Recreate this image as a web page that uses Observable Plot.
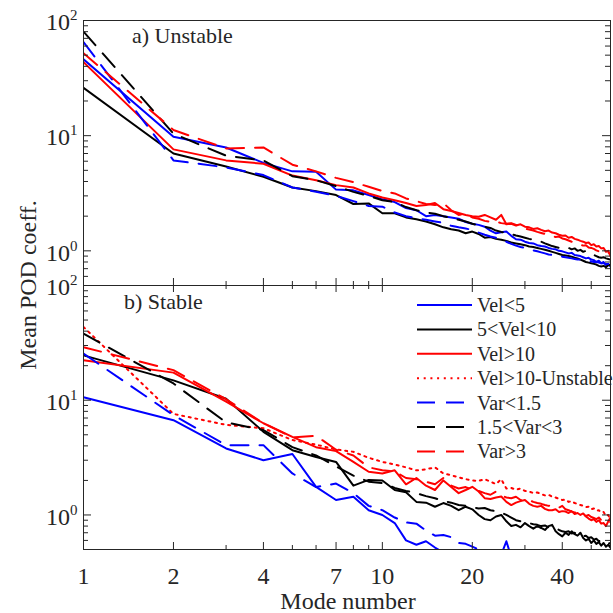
<!DOCTYPE html>
<html><head><meta charset="utf-8">
<script src="https://cdn.jsdelivr.net/npm/d3@7"></script>
<script src="https://cdn.jsdelivr.net/npm/@observablehq/plot@0.6"></script>
<style>
html,body{margin:0;padding:0;background:#fff;}
#chart{position:relative;width:613px;height:613px;background:#fff;font-family:"Liberation Serif","Times New Roman",Times,serif;}
#chart svg{position:absolute;left:0;overflow:visible;}
</style></head><body><div id="chart"></div>
<script>
// ---------- data ----------
const modes = [1,2,3,4,5,6,7,8,9,10,11,12,13,14,15,16,17,18,19,20,21,22,23,24,25,26,27,28,29,30,
  31,32,33,34,35,36,37,38,39,40,41,42,43,44,45,46,47,48,49,50,51,52,53,54,55,56,57,58];

// a) Unstable
const unstVelLt5 = [46,9.8,7.9,5.8,4.9,4.85,3.4,3.35,3.05,2.8,
  2.65,2.35,2.25,2.0,2.05,2.0,1.95,1.9,1.78,1.72,
  1.68,1.62,1.5,1.42,1.45,1.47,1.35,1.26,1.25,1.2,
  1.17,1.16,1.12,1.1,1.09,1.06,1.04,1.03,1.0,0.99,
  0.97,0.95,0.96,0.92,0.91,0.9,0.88,0.86,0.87,0.84,
  0.83,0.8,0.82,0.78,0.8,0.75,0.77,0.73];
const unstVel5to10 = [26,7.0,5.4,4.4,3.55,3.3,3.05,2.55,2.58,2.12,
  2.12,1.95,1.88,1.8,1.7,1.6,1.54,1.5,1.42,1.47,
  1.4,1.3,1.32,1.27,1.25,1.22,1.18,1.16,1.14,1.12,
  1.09,1.08,1.06,1.04,1.02,1.0,0.98,0.96,0.94,0.92,
  0.91,0.9,0.89,0.87,0.86,0.84,0.82,0.8,0.79,0.78,
  0.77,0.76,0.74,0.73,0.74,0.72,0.75,0.76];
const unstVelGt10 = [43.5,7.6,6.1,5.7,4.5,4.1,3.72,3.55,3.15,2.9,
  2.75,2.6,2.45,2.5,2.6,2.3,2.22,2.13,2.05,2.0,
  1.98,2.05,1.95,1.86,2.05,1.7,1.72,1.66,1.7,1.62,
  1.6,1.55,1.57,1.52,1.48,1.5,1.44,1.42,1.38,1.35,
  1.36,1.3,1.32,1.27,1.25,1.22,1.2,1.17,1.18,1.12,
  1.14,1.09,1.1,1.05,1.06,0.98,1.0,0.9];
const unstVarLt15 = [65,6.1,5.3,4.55,3.55,3.26,3.0,2.7,2.45,2.42,
  2.15,2.0,1.92,1.86,1.8,1.75,1.65,1.6,1.56,1.52,
  1.44,1.38,1.33,1.3,1.24,1.2,1.15,1.11,1.08,1.06,
  1.03,1.01,0.99,0.97,0.95,0.93,0.92,0.91,0.9,0.89,
  0.88,0.87,0.86,0.85,0.84,0.84,0.83,0.83,0.82,0.81,
  0.8,0.8,0.79,0.78,0.78,0.77,0.77,0.76];
const unstVar15to3 = [80,10.4,6.7,6.1,4.45,4.1,3.65,3.25,3.0,2.75,
  2.65,2.4,2.25,2.15,2.1,2.0,1.92,1.86,1.8,1.72,
  1.66,1.62,1.58,1.5,1.46,1.43,1.4,1.36,1.33,1.3,
  1.27,1.25,1.22,1.2,1.16,1.13,1.1,1.08,1.06,1.07,
  1.05,1.06,1.03,1.05,1.0,1.02,0.98,1.0,0.96,0.94,
  0.92,0.9,0.88,0.87,0.88,0.86,0.85,0.84];
const unstVarGt3 = [52,11.2,7.75,7.9,5.6,4.9,4.3,3.95,3.6,3.3,
  3.15,2.85,2.7,2.55,2.5,2.6,2.25,2.05,2.1,1.95,
  1.9,1.82,1.78,1.8,1.74,1.72,1.74,1.68,1.62,1.56,
  1.53,1.5,1.46,1.43,1.4,1.37,1.34,1.32,1.33,1.28,
  1.26,1.23,1.2,1.18,1.16,1.13,1.11,1.12,1.07,1.06,
  1.04,1.01,0.99,1.0,0.97,0.96,0.97,0.94];

// b) Stable
const stabVelLt5 = [10.6,6.7,3.8,3.0,3.4,1.76,1.35,1.44,1.1,1.0,
  0.85,0.6,0.55,0.59,0.52,0.47,0.45,0.46,0.44,0.45,
  0.42,0.44,0.4,0.42,0.45,0.59,0.43,0.4,0.38,0.37,
  0.36,0.35,0.34,0.33,0.33,0.32,0.31,0.3,0.3,0.29,
  0.28,0.28,0.27,0.27,0.26,0.26,0.25,0.25,0.24,0.24,
  0.23,0.23,0.22,0.22,0.22,0.21,0.21,0.2];
const stabVel5to10 = [24.6,14.9,10.3,5.3,3.67,3.2,2.9,1.8,2.02,2.0,
  1.65,1.58,1.3,1.28,1.18,1.27,1.2,1.1,1.18,1.12,
  1.0,0.92,0.9,0.97,1.0,0.88,0.8,0.82,0.78,0.85,
  0.8,0.76,0.8,0.77,0.74,0.8,0.82,0.72,0.68,0.65,
  0.7,0.67,0.72,0.68,0.66,0.7,0.63,0.6,0.62,0.57,
  0.6,0.56,0.58,0.54,0.57,0.53,0.55,0.52];
const stabVelGt10 = [22.3,17.4,9.7,6.3,4.8,3.9,3.6,2.9,2.38,2.3,
  2.45,1.85,2.1,1.8,1.65,2.0,1.75,1.55,1.65,1.76,
  1.6,1.4,1.38,1.42,1.45,1.3,1.22,1.28,1.32,1.35,
  1.25,1.2,1.18,1.2,1.13,1.1,1.1,1.12,1.06,1.08,
  1.07,1.04,1.08,1.02,1.04,1.0,1.03,0.97,0.93,0.9,
  0.92,0.87,0.9,0.84,0.85,0.8,0.88,0.95];
const stabVarLt15 = [25.5,7.4,4.06,4.06,2.3,1.75,1.88,1.55,1.2,1.1,
  0.95,0.86,0.84,0.73,0.66,0.67,0.64,0.57,0.56,0.53,
  0.5,0.5,0.47,0.45,0.44,0.43,0.42,0.41,0.4,0.39,
  0.38,0.37,0.36,0.35,0.35,0.34,0.33,0.33,0.32,0.31,
  0.31,0.3,0.3,0.29,0.29,0.28,0.28,0.27,0.27,0.26,
  0.26,0.25,0.25,0.25,0.24,0.24,0.23,0.23];
const stabVar15to3 = [38,14,6.4,5.5,3.9,3.3,2.65,2.2,1.95,1.9,
  1.72,1.62,1.55,1.46,1.4,1.32,1.28,1.22,1.2,1.17,
  1.14,1.15,1.1,1.08,1.05,1.0,0.95,0.9,0.88,0.87,
  0.85,0.83,0.82,0.8,0.81,0.78,0.76,0.77,0.74,0.72,
  0.71,0.72,0.69,0.7,0.67,0.68,0.65,0.66,0.63,0.64,
  0.61,0.62,0.59,0.6,0.58,0.58,0.56,0.57];
const stabVarGt3 = [29,18.3,10.2,6.3,4.75,4.9,3.7,3.3,2.6,2.45,
  2.4,2.1,2.05,1.95,1.85,2.1,1.8,1.7,1.75,1.65,
  1.62,1.55,1.5,1.6,1.48,1.42,1.4,1.44,1.35,1.32,
  1.35,1.3,1.27,1.25,1.22,1.2,1.22,1.18,1.16,1.2,
  1.12,1.1,1.07,1.05,1.04,1.02,1.0,0.98,1.0,0.96,
  0.94,0.92,0.95,0.9,0.88,0.9,0.86,0.87];

const legendNames = ["Vel<5","5<Vel<10","Vel>10","Vel>10-Unstable","Var<1.5","1.5<Var<3","Var>3"];
const xTickLabels = [1,2,4,7,10,20,40];
const xMinorTicks = [3,5,6,8,9,30,50];
const yMajorTicks = [1,10,100];
const yMinorTicks = [0.5,0.6,0.7,0.8,0.9,2,3,4,5,6,7,8,9,20,30,40,50,60,70,80,90];

// ---------- style ----------
const AX = "#262626";
const FONT = '"Liberation Serif","Times New Roman",Times,serif';
const DASH = "18,11", DOT = "2,4.7";
const BLUE = "#0000ff", BLACK = "#000000", RED = "#ff0000";
const W = 613, ML = 83, MR = 3, innerW = W - ML - MR;

const styleOf = {
  "Vel<5": {color: BLUE, dash: null},
  "5<Vel<10": {color: BLACK, dash: null},
  "Vel>10": {color: RED, dash: null},
  "Vel>10-Unstable": {color: RED, dash: DOT},
  "Var<1.5": {color: BLUE, dash: DASH},
  "1.5<Var<3": {color: BLACK, dash: DASH},
  "Var>3": {color: RED, dash: DASH}
};

const topSeries = [
  ["Vel<5", unstVelLt5], ["5<Vel<10", unstVel5to10], ["Vel>10", unstVelGt10],
  ["Var<1.5", unstVarLt15], ["1.5<Var<3", unstVar15to3], ["Var>3", unstVarGt3]
];
const botSeries = [
  ["Vel<5", stabVelLt5], ["5<Vel<10", stabVel5to10], ["Vel>10", stabVelGt10],
  ["Vel>10-Unstable", unstVelGt10],
  ["Var<1.5", stabVarLt15], ["1.5<Var<3", stabVar15to3], ["Var>3", stabVarGt3]
];

function rows(vals) { return vals.map((v, i) => ({m: modes[i], v})); }

function panel({height, mt, mb, series, xLabels, topTicks}) {
  const ih = height - mt - mb;
  const marks = [];
  for (const [name, vals] of series) {
    const st = styleOf[name];
    marks.push(Plot.line(rows(vals), {x: "m", y: "v", stroke: st.color, strokeWidth: 2,
      strokeDasharray: st.dash, clip: true}));
  }
  const xMajorInner = xTickLabels.filter(d => d > 1);
  marks.push(
    Plot.tickY(yMajorTicks, {y: d => d, stroke: AX, insetRight: innerW - 8}),
    Plot.tickY(yMajorTicks, {y: d => d, stroke: AX, insetLeft: innerW - 8}),
    Plot.tickY(yMinorTicks, {y: d => d, stroke: AX, insetRight: innerW - 5}),
    Plot.tickY(yMinorTicks, {y: d => d, stroke: AX, insetLeft: innerW - 5}),
    Plot.tickX(xMajorInner, {x: d => d, stroke: AX, insetTop: ih - 7}),
    Plot.tickX(xMinorTicks, {x: d => d, stroke: AX, insetTop: ih - 4})
  );
  if (topTicks) marks.push(
    Plot.tickX(xMajorInner, {x: d => d, stroke: AX, insetBottom: ih - 7}),
    Plot.tickX(xMinorTicks, {x: d => d, stroke: AX, insetBottom: ih - 4})
  );
  marks.push(Plot.frame({stroke: AX, strokeWidth: 1}));
  marks.push(Plot.text(yMajorTicks, {y: d => d, frameAnchor: "left", dx: -6, dy: 2,
    textAnchor: "end", lineAnchor: "middle", text: d => "10^" + Math.round(Math.log10(d)),
    fontSize: 24, fill: AX}));
  if (xLabels) marks.push(Plot.text(xTickLabels, {x: d => d, frameAnchor: "bottom", dy: 27,
    lineAnchor: "middle", text: d => String(d), fontSize: 24, fill: AX}));
  const svg = Plot.plot({
    width: W, height, marginLeft: ML, marginRight: MR, marginTop: mt, marginBottom: mb,
    x: {type: "log", domain: [1, 58], axis: null},
    y: {type: "log", domain: [0.5, 100], axis: null},
    style: {background: "transparent", overflow: "visible", fontFamily: FONT, color: AX},
    marks
  });
  // superscript exponents on y tick labels: "10^e" -> 10 with raised e
  d3.select(svg).selectAll("text").each(function () {
    const m = /^10\^(-?\d+)$/.exec(this.textContent.trim());
    if (!m) return;
    this.textContent = "10";
    const ts = document.createElementNS("http://www.w3.org/2000/svg", "tspan");
    ts.setAttribute("dy", "-10");
    ts.setAttribute("font-size", "15");
    ts.textContent = m[1];
    this.appendChild(ts);
  });
  return svg;
}

const chartEl = document.getElementById("chart");
const topSvg = panel({height: 290, mt: 20, mb: 5, series: topSeries, xLabels: false, topTicks: false});
topSvg.style.top = "0px";
chartEl.appendChild(topSvg);
const botSvg = panel({height: 338, mt: 10, mb: 64, series: botSeries, xLabels: true, topTicks: true});
botSvg.style.top = "275px";
chartEl.appendChild(botSvg);

// ---------- overlay text: titles, axis labels, legend ----------
const ov = d3.select(chartEl).append("svg").attr("width", W).attr("height", 613)
  .style("top", "0px").style("pointer-events", "none")
  .attr("font-family", FONT).attr("fill", AX);
ov.append("text").attr("x", 132).attr("y", 43).attr("font-size", 22).text("a) Unstable");
ov.append("text").attr("x", 124).attr("y", 309).attr("font-size", 22).text("b) Stable");
ov.append("text").attr("transform", "translate(36,285) rotate(-90)").attr("text-anchor", "middle")
  .attr("font-size", 24).text("Mean POD coeff.");
ov.append("text").attr("x", 348).attr("y", 609).attr("text-anchor", "middle")
  .attr("font-size", 24).text("Mode number");
legendNames.forEach((name, i) => {
  const y = 305 + i * 24.4;
  const st = styleOf[name];
  ov.append("line").attr("x1", 417).attr("x2", 472).attr("y1", y).attr("y2", y)
    .attr("stroke", st.color).attr("stroke-width", 2)
    .attr("stroke-dasharray", st.dash || null);
  ov.append("text").attr("x", 477).attr("y", y + 7).attr("font-size", 20).text(name);
});
</script></body></html>
